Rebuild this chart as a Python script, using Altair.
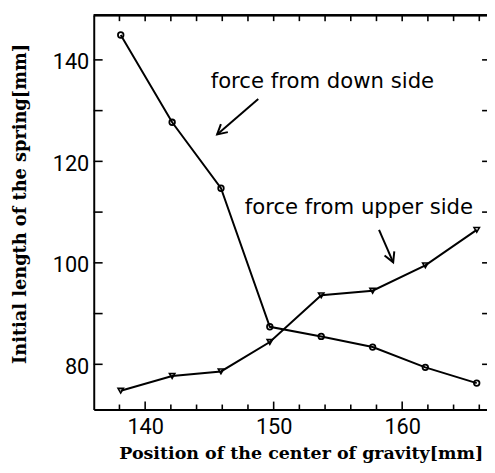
import altair as alt
import pandas as pd

# ---- data ----
x_pos = [138.1, 142.1, 145.9, 149.7, 153.7, 157.7, 161.8, 165.8]
y_down = [144.9, 127.7, 114.7, 87.4, 85.5, 83.4, 79.4, 76.3]
y_up = [74.8, 77.7, 78.6, 84.4, 93.6, 94.5, 99.5, 106.5]

x_ticks_major = [140, 150, 160]
x_ticks_minor = [138, 142, 144, 146, 148, 152, 154, 156, 158, 162, 164, 166]
y_ticks_all = [80, 90, 100, 110, 120, 130, 140]

labels = ["force from down side", "force from upper side"]
label_x = [145.1, 147.75]
label_y = [135.6, 110.7]

arrow_x1 = [148.8, 158.2]
arrow_y1 = [132.3, 106.5]
arrow_x2 = [145.6, 159.3]
arrow_y2 = [125.3, 100.1]
arrow_angle = [139, 67]

X_DOM = [136.0, 166.6]
Y_DOM = [71.1, 148.8]
W, H = 399, 400

down = pd.DataFrame({"x": x_pos, "y": y_down})
up = pd.DataFrame({"x": x_pos, "y": y_up})
ann = pd.DataFrame({"x": label_x, "y": label_y, "t": labels})
arr = pd.DataFrame({"x": arrow_x1, "y": arrow_y1, "x2": arrow_x2, "y2": arrow_y2, "a": arrow_angle})

xs = alt.Scale(domain=X_DOM, nice=False, zero=False)
ys = alt.Scale(domain=Y_DOM, nice=False, zero=False)

xaxis = alt.Axis(values=x_ticks_major, title="Position of the center of gravity[mm]",
                 grid=False, ticks=False, domain=True, domainColor="black", domainWidth=2,
                 labelPadding=7, titleX=210, titleY=45, titleBaseline="middle", titleAlign="center",
                 titleFontSize=17.7)
yaxis = alt.Axis(values=[80, 100, 120, 140], title="Initial length of the spring[mm]",
                 grid=False, ticks=False, domain=True, domainColor="black", domainWidth=2,
                 labelPadding=5, labelOffset=2, titleX=-74, titleY=191, titleBaseline="middle",
                 titleAlign="center", titleFontSize=18)

X = alt.X("x:Q", scale=xs, axis=xaxis)
Y = alt.Y("y:Q", scale=ys, axis=yaxis)

line_down = alt.Chart(down).mark_line(color="black", strokeWidth=2).encode(x=X, y=Y)
pts_down = alt.Chart(down).mark_point(shape="circle", filled=False, color="black",
                                      size=32, strokeWidth=1.8, opacity=1).encode(x=X, y=Y)
line_up = alt.Chart(up).mark_line(color="black", strokeWidth=2).encode(x=X, y=Y)
pts_up = alt.Chart(up).mark_point(shape="triangle-down", filled=False, color="black",
                                  size=30, strokeWidth=1.6, opacity=1).encode(x=X, y=Y)

text = alt.Chart(ann).mark_text(align="left", baseline="middle", font="DejaVu Sans",
                                fontSize=21.5, color="black").encode(
    x=alt.X("x:Q", scale=xs), y=alt.Y("y:Q", scale=ys), text="t:N")

arrow_shaft = alt.Chart(arr).mark_rule(color="black", strokeWidth=2).encode(
    x=alt.X("x:Q", scale=xs), y=alt.Y("y:Q", scale=ys), x2="x2:Q", y2="y2:Q")
arrow_head = alt.Chart(arr).mark_point(shape="M -1 -0.55 L 0 0 L -1 0.55", filled=False,
                                       color="black", size=380, strokeWidth=2, opacity=1).encode(
    x=alt.X("x2:Q", scale=xs), y=alt.Y("y2:Q", scale=ys), angle=alt.Angle("a:Q", scale=None))

tx_major = pd.DataFrame({"v": x_ticks_major})
tx_minor = pd.DataFrame({"v": x_ticks_minor})
tx_all = pd.DataFrame({"v": sorted(x_ticks_major + x_ticks_minor)})
ty = pd.DataFrame({"v": y_ticks_all})

bot_major = alt.Chart(tx_major).mark_rule(color="black", strokeWidth=1.6).encode(
    x=alt.X("v:Q", scale=xs), y=alt.value(H), y2=alt.value(H - 8))
bot_minor = alt.Chart(tx_minor).mark_rule(color="black", strokeWidth=1.6).encode(
    x=alt.X("v:Q", scale=xs), y=alt.value(H), y2=alt.value(H - 5))
top_ticks = alt.Chart(tx_all).mark_rule(color="black", strokeWidth=1.6).encode(
    x=alt.X("v:Q", scale=xs), y=alt.value(0), y2=alt.value(6))
left_ticks = alt.Chart(ty).mark_rule(color="black", strokeWidth=1.6).encode(
    y=alt.Y("v:Q", scale=ys), x=alt.value(0), x2=alt.value(9))
right_ticks = alt.Chart(ty).mark_rule(color="black", strokeWidth=1.6).encode(
    y=alt.Y("v:Q", scale=ys), x=alt.value(W - 5), x2=alt.value(W))
top_line = alt.Chart(tx_major).mark_rule(color="black", strokeWidth=2).encode(
    x=alt.value(0), x2=alt.value(W), y=alt.value(0))

chart = alt.layer(
    line_down, pts_down, line_up, pts_up, text, arrow_shaft, arrow_head,
    bot_major, bot_minor, top_ticks, left_ticks, right_ticks, top_line
).properties(
    width=W, height=H,
    autosize=alt.AutoSizeParams(type="none"),
    padding={"left": 87, "top": 4, "right": 0, "bottom": 53},
).configure_view(stroke=None).configure_axis(
    labelFont="Roboto", labelFontSize=22, labelColor="black",
    titleFont="DejaVu Serif", titleFontWeight="bold", titleColor="black",
)

chart.save("out.html", embed_options={"renderer": "svg", "actions": False})
